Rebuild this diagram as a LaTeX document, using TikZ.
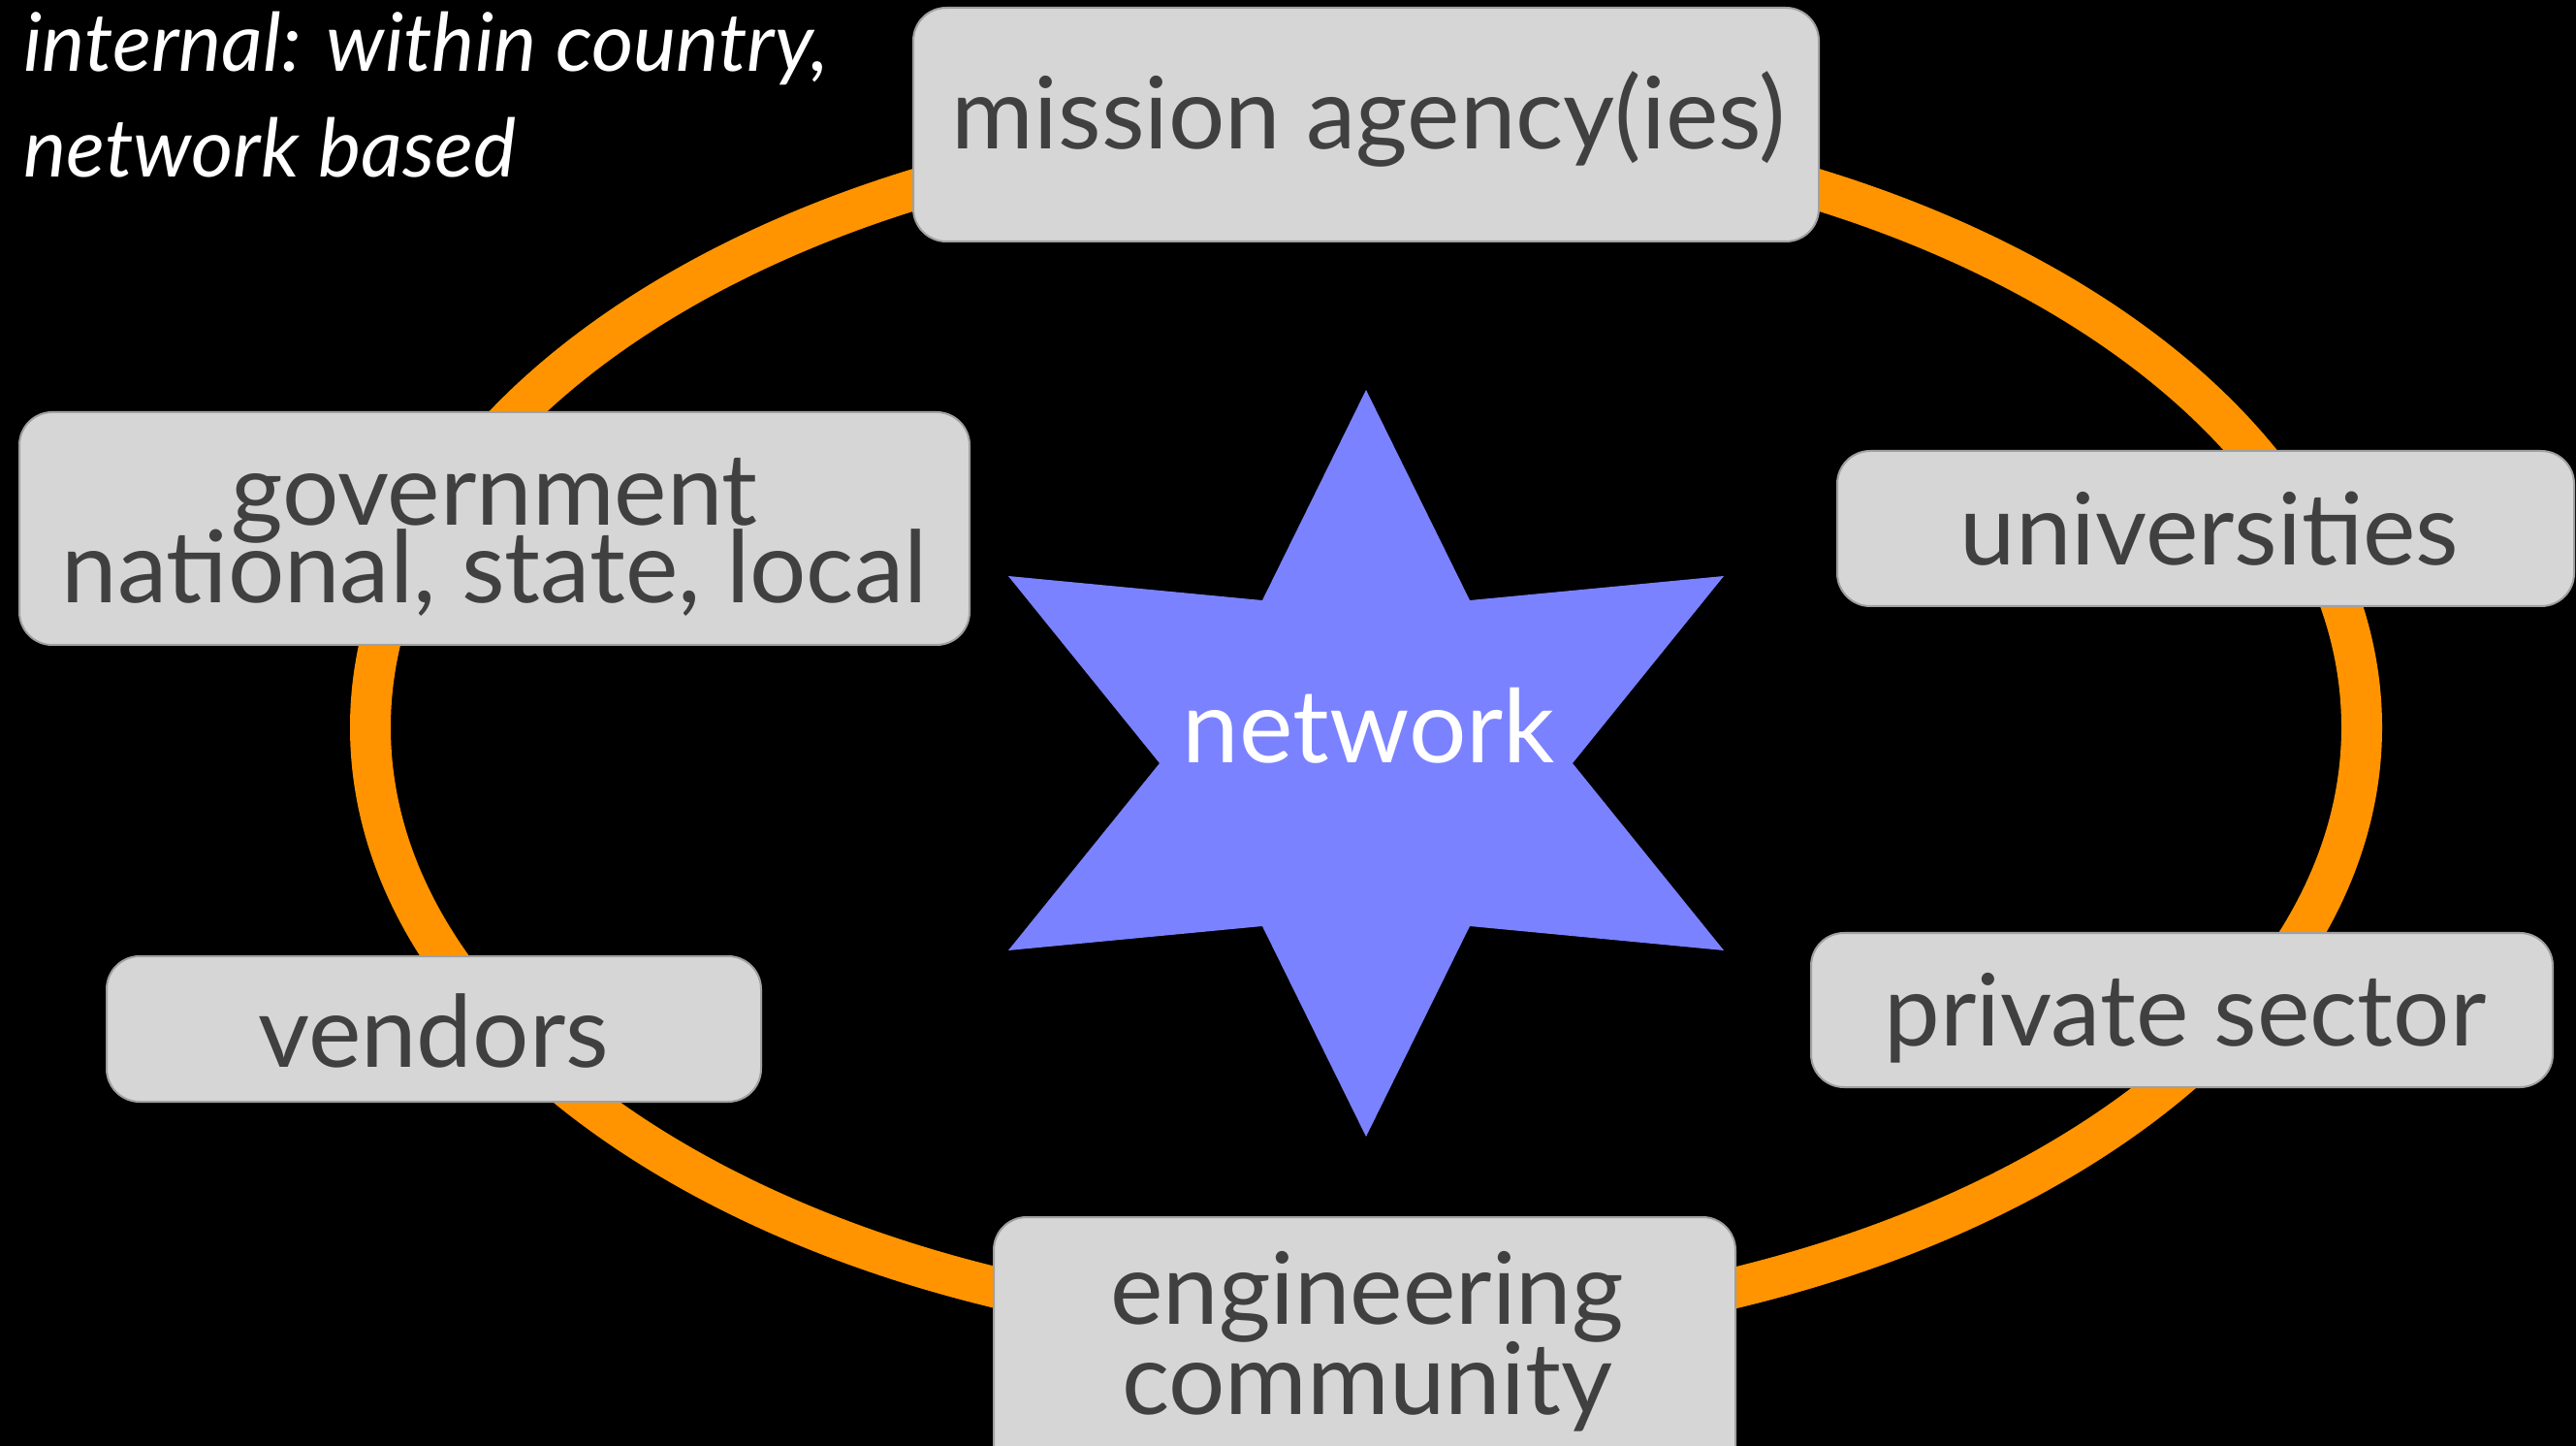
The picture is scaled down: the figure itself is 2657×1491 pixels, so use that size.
\documentclass[tikz,border=0pt]{standalone}
\usepackage{fontspec}
\setmainfont{Lato}
\definecolor{ringorange}{RGB}{255,148,0}
\definecolor{boxfill}{RGB}{214,214,214}
\definecolor{boxline}{RGB}{160,160,160}
\definecolor{boxtextc}{RGB}{64,64,64}
\definecolor{starblue}{RGB}{123,130,255}
\newcommand\mytightlines{\lineskiplimit=-100pt\relax\lineskip=0pt\relax}
\tikzset{
  boxshape/.style={draw=boxline, line width=1pt, fill=boxfill, rounded corners=17pt, inner sep=0pt},
  boxlabel/.style={text=boxtextc, font=\fontsize{51.5}{40}\selectfont, inner sep=0pt, anchor=base},
  twoline/.style={text=boxtextc, align=center, inner sep=0pt, anchor=base},
  starlabel/.style={text=white, font=\fontsize{52.5}{40}\selectfont, inner sep=0pt, anchor=base},
  notelabel/.style={text=white, font=\itshape\fontsize{41.7}{55}\selectfont, inner sep=0pt, anchor=base west}
}
\begin{document}
\begin{tikzpicture}[x=0.5pt,y=-0.5pt]
\useasboundingbox (0,0) rectangle (2657,1491);
\clip (0,0) rectangle (2657,1491);
\fill[black] (0,0) rectangle (2657,1491);
% ring
\draw[ringorange, line width=21pt] (1409,750) ellipse [x radius=1027, y radius=622];
% boxes
\node[boxshape, minimum width=467pt, minimum height=120.5pt] (mission) at (1409,128.5) {};
\node[boxshape, minimum width=490pt, minimum height=120pt] (gov) at (510,545) {};
\node[boxshape, minimum width=380pt, minimum height=80pt] (univ) at (2275,545) {};
\node[boxshape, minimum width=382.5pt, minimum height=79.5pt] (priv) at (2250.5,1041.5) {};
\node[boxshape, minimum width=337.5pt, minimum height=75pt] (vend) at (447.5,1061) {};
\node[boxshape, minimum width=382.5pt, minimum height=137.5pt] (eng) at (1407.5,1392.5) {};
% box texts
\node[boxlabel] (missiont) at (1412,154) {mission agency(ies)};
\node[twoline, font=\fontsize{51.5}{40}\selectfont\mytightlines] (govt) at (510,622) {government\\national, state, local};
\node[boxlabel] (univt) at (2279,583) {universities};
\node[boxlabel] (privt) at (2254,1078) {private sector};
\node[boxlabel] (vendt) at (447,1100) {vendors};
\node[twoline, font=\fontsize{51.5}{46.5}\selectfont\mytightlines] (engt) at (1410,1458) {engineering\\community};
% star
\fill[starblue] (1409,402) -- (1516,619) -- (1778,594) -- (1622,787) -- (1778,980) -- (1516,955)
  -- (1409,1172) -- (1302,955) -- (1040,980) -- (1196,787) -- (1040,594) -- (1302,619) -- cycle;
\node[starlabel] (net) at (1412,787) {network};
% note
\node[notelabel] (note1) at (24,74) {internal: within country,};
\node[notelabel] (note2) at (24,183) {network based};
\end{tikzpicture}
\end{document}
